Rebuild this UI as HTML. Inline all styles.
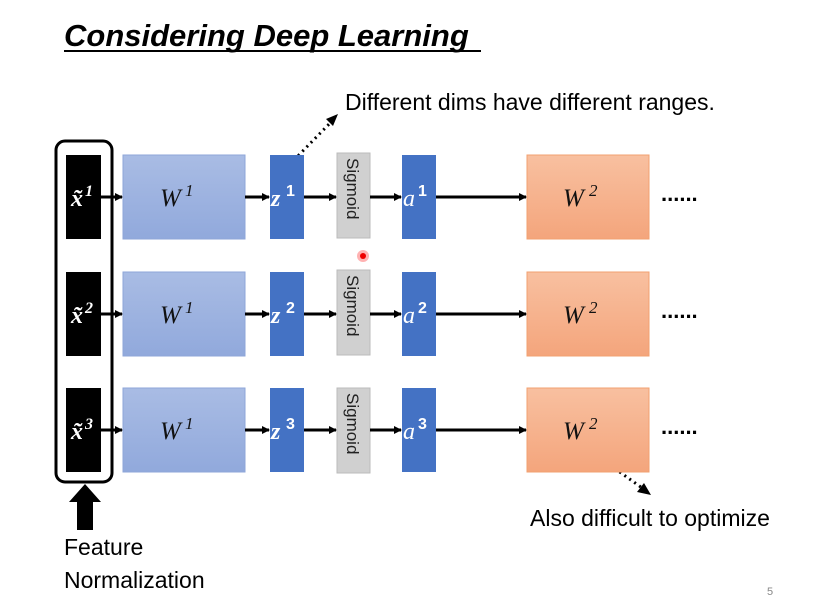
<!DOCTYPE html>
<html><head><meta charset="utf-8"><style>
html,body{margin:0;padding:0;background:#fff;width:833px;height:602px;overflow:hidden}
text{font-family:"Liberation Sans",sans-serif}
.m{font-family:"Liberation Serif",serif;font-style:italic}
</style></head><body>
<svg width="833" height="602" viewBox="0 0 833 602" xmlns="http://www.w3.org/2000/svg">
<defs>
<linearGradient id="gb" x1="0" y1="0" x2="0" y2="1"><stop offset="0" stop-color="#a9bce4"/><stop offset="1" stop-color="#91a9dc"/></linearGradient>
<linearGradient id="go" x1="0" y1="0" x2="0" y2="1"><stop offset="0" stop-color="#f8c0a0"/><stop offset="1" stop-color="#f4a57c"/></linearGradient>
<marker id="ah" markerWidth="8" markerHeight="8" refX="7" refY="4" orient="auto" markerUnits="userSpaceOnUse"><path d="M0,0 L8,4 L0,8 z" fill="#000"/></marker>
</defs>
<text x="64" y="46" font-size="31" font-weight="bold" font-style="italic">Considering Deep Learning</text>
<line x1="64" y1="51" x2="481" y2="51" stroke="#000" stroke-width="2"/>
<text x="345" y="110" font-size="23">Different dims have different ranges.</text>
<text x="530" y="526" font-size="23">Also difficult to optimize</text>
<text x="64" y="555" font-size="23">Feature</text>
<text x="64" y="588" font-size="23">Normalization</text>
<text x="767" y="595" font-size="11" fill="#888">5</text>
<rect x="56" y="141" width="56" height="341" rx="9" fill="none" stroke="#000" stroke-width="3"/>
<path d="M85,484 L101,502 L93,502 L93,530 L77,530 L77,502 L69,502 z" fill="#000"/>
<line x1="294" y1="160" x2="335" y2="118" stroke="#000" stroke-width="3" stroke-dasharray="2,4"/>
<path d="M338,114 L326,119 L333,126 z" fill="#000"/>
<line x1="600" y1="458" x2="645" y2="490" stroke="#000" stroke-width="3" stroke-dasharray="2,4"/>
<path d="M651,495 L637,492 L644,483 z" fill="#000"/>
<g id="r1">
<rect x="66" y="155" width="35" height="84" fill="#000"/>
<text x="71" y="206" font-size="24" fill="#fff" class="m" font-weight="bold">x̃</text><text x="85" y="196" font-size="16" fill="#fff" font-weight="bold" class="m">1</text>
<rect x="123" y="155" width="122" height="84" fill="url(#gb)" stroke="#8ea6d8"/>
<text x="160" y="206" font-size="25" class="m" fill="#111">W</text><text x="185" y="196" font-size="17" class="m" fill="#111">1</text>
<rect x="270" y="155" width="34" height="84" fill="#4472c4"/>
<text x="271" y="206" font-size="24" fill="#fff" class="m" font-weight="bold">z</text><text x="286" y="196" font-size="16" fill="#fff" font-weight="bold">1</text>
<rect x="337" y="153" width="33" height="85" fill="#d0d0d0" stroke="#bbb"/>
<text transform="translate(347,158) rotate(90)" font-size="17" fill="#222">Sigmoid</text>
<rect x="402" y="155" width="34" height="84" fill="#4472c4"/>
<text x="403" y="206" font-size="24" fill="#fff" class="m">a</text><text x="418" y="196" font-size="16" fill="#fff" font-weight="bold">1</text>
<rect x="527" y="155" width="122" height="84" fill="url(#go)" stroke="#f2a070"/>
<text x="563" y="206" font-size="25" class="m" fill="#111">W</text><text x="589" y="196" font-size="17" class="m" fill="#111">2</text>
<text x="661" y="201" font-size="22" font-weight="bold">......</text>
<g stroke="#000" stroke-width="3" marker-end="url(#ah)">
<line x1="101" y1="197" x2="122" y2="197"/>
<line x1="245" y1="197" x2="269" y2="197"/>
<line x1="304" y1="197" x2="336" y2="197"/>
<line x1="370" y1="197" x2="401" y2="197"/>
<line x1="436" y1="197" x2="526" y2="197"/>
</g>
</g>
<g transform="translate(0,117)">
<rect x="66" y="155" width="35" height="84" fill="#000"/>
<text x="71" y="206" font-size="24" fill="#fff" class="m" font-weight="bold">x̃</text><text x="85" y="196" font-size="16" fill="#fff" font-weight="bold" class="m">2</text>
<rect x="123" y="155" width="122" height="84" fill="url(#gb)" stroke="#8ea6d8"/>
<text x="160" y="206" font-size="25" class="m" fill="#111">W</text><text x="185" y="196" font-size="17" class="m" fill="#111">1</text>
<rect x="270" y="155" width="34" height="84" fill="#4472c4"/>
<text x="271" y="206" font-size="24" fill="#fff" class="m" font-weight="bold">z</text><text x="286" y="196" font-size="16" fill="#fff" font-weight="bold">2</text>
<rect x="337" y="153" width="33" height="85" fill="#d0d0d0" stroke="#bbb"/>
<text transform="translate(347,158) rotate(90)" font-size="17" fill="#222">Sigmoid</text>
<rect x="402" y="155" width="34" height="84" fill="#4472c4"/>
<text x="403" y="206" font-size="24" fill="#fff" class="m">a</text><text x="418" y="196" font-size="16" fill="#fff" font-weight="bold">2</text>
<rect x="527" y="155" width="122" height="84" fill="url(#go)" stroke="#f2a070"/>
<text x="563" y="206" font-size="25" class="m" fill="#111">W</text><text x="589" y="196" font-size="17" class="m" fill="#111">2</text>
<text x="661" y="201" font-size="22" font-weight="bold">......</text>
<g stroke="#000" stroke-width="3" marker-end="url(#ah)">
<line x1="101" y1="197" x2="122" y2="197"/>
<line x1="245" y1="197" x2="269" y2="197"/>
<line x1="304" y1="197" x2="336" y2="197"/>
<line x1="370" y1="197" x2="401" y2="197"/>
<line x1="436" y1="197" x2="526" y2="197"/>
</g>
</g>
<g transform="translate(0,233)">
<rect x="66" y="155" width="35" height="84" fill="#000"/>
<text x="71" y="206" font-size="24" fill="#fff" class="m" font-weight="bold">x̃</text><text x="85" y="196" font-size="16" fill="#fff" font-weight="bold" class="m">3</text>
<rect x="123" y="155" width="122" height="84" fill="url(#gb)" stroke="#8ea6d8"/>
<text x="160" y="206" font-size="25" class="m" fill="#111">W</text><text x="185" y="196" font-size="17" class="m" fill="#111">1</text>
<rect x="270" y="155" width="34" height="84" fill="#4472c4"/>
<text x="271" y="206" font-size="24" fill="#fff" class="m" font-weight="bold">z</text><text x="286" y="196" font-size="16" fill="#fff" font-weight="bold">3</text>
<rect x="337" y="155" width="33" height="85" fill="#d0d0d0" stroke="#bbb"/>
<text transform="translate(347,160) rotate(90)" font-size="17" fill="#222">Sigmoid</text>
<rect x="402" y="155" width="34" height="84" fill="#4472c4"/>
<text x="403" y="206" font-size="24" fill="#fff" class="m">a</text><text x="418" y="196" font-size="16" fill="#fff" font-weight="bold">3</text>
<rect x="527" y="155" width="122" height="84" fill="url(#go)" stroke="#f2a070"/>
<text x="563" y="206" font-size="25" class="m" fill="#111">W</text><text x="589" y="196" font-size="17" class="m" fill="#111">2</text>
<text x="661" y="201" font-size="22" font-weight="bold">......</text>
<g stroke="#000" stroke-width="3" marker-end="url(#ah)">
<line x1="101" y1="197" x2="122" y2="197"/>
<line x1="245" y1="197" x2="269" y2="197"/>
<line x1="304" y1="197" x2="336" y2="197"/>
<line x1="370" y1="197" x2="401" y2="197"/>
<line x1="436" y1="197" x2="526" y2="197"/>
</g>
</g>
<circle cx="363" cy="256" r="6" fill="#f66" opacity="0.5"/>
<circle cx="363" cy="256" r="3" fill="#e00"/>
</svg>
</body></html>
